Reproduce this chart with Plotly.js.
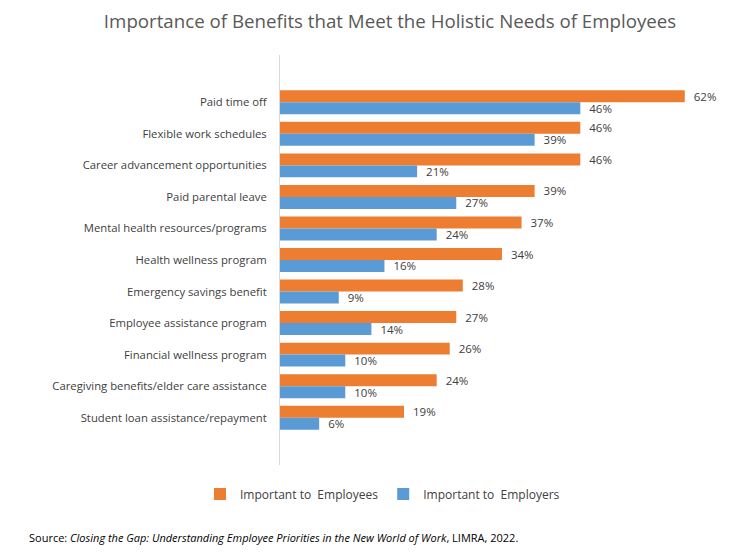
<!DOCTYPE html>
<html>
<head>
<meta charset="utf-8">
<script src="https://cdn.plot.ly/plotly-3.0.1.min.js"></script>
<style>html,body{margin:0;padding:0;background:#fff;}#chart{width:750px;height:554px;}</style>
</head>
<body>
<div id="chart"></div>
<script>
const categories = [
  "Paid time off",
  "Flexible work schedules",
  "Career advancement opportunities",
  "Paid parental leave",
  "Mental health resources/programs",
  "Health wellness program",
  "Emergency savings benefit",
  "Employee assistance program",
  "Financial wellness program",
  "Caregiving benefits/elder care assistance",
  "Student loan assistance/repayment"
];
const employees = [62, 46, 46, 39, 37, 34, 28, 27, 26, 24, 19];
const employers = [46, 39, 21, 27, 24, 16, 9, 14, 10, 10, 6];
const seriesNames = ["Important to  Employees", "Important to  Employers"];

const FONT = "Open Sans, Liberation Sans, sans-serif";
const PAD = '\u00a0\u00a0';
const traces = [
  {type:'bar', orientation:'h', name:seriesNames[0], y:categories, x:employees,
   marker:{color:'#ED7D31'}, text:employees.map(v=>PAD+v+'%'), textposition:'outside', constraintext:'none',
   textfont:{size:11.5,color:'#404040',family:FONT}, cliponaxis:false, hoverinfo:'none'},
  {type:'bar', orientation:'h', name:seriesNames[1], y:categories, x:employers,
   marker:{color:'#5B9BD5'}, text:employers.map(v=>PAD+v+'%'), textposition:'outside', constraintext:'none',
   textfont:{size:11.5,color:'#404040',family:FONT}, cliponaxis:false, hoverinfo:'none'}
];
const layout = {
  width:750, height:554,
  margin:{l:280, r:13, t:55, b:89},
  paper_bgcolor:'#fff', plot_bgcolor:'#fff',
  font:{family:FONT, color:'#404040', size:12},
  title:{text:'Importance of Benefits that Meet the Holistic Needs of Employees',
         font:{size:18.7, color:'#595959', family:FONT}, x:0.52, xanchor:'center', y:0.962, yanchor:'middle'},
  barmode:'group', bargap:0.24, bargroupgap:0,
  xaxis:{range:[0,70], visible:false, showgrid:false, zeroline:false},
  yaxis:{type:'category', range:[11.5,-1.5], showline:true, linecolor:'#d9d9d9', linewidth:1,
         ticks:'', ticklabelstandoff:10, showgrid:false, zeroline:false,
         tickfont:{size:11.3, color:'#404040', family:FONT}},
  showlegend:true,
  legend:{orientation:'h', x:(200-280)/457, xanchor:'left', y:-(494-465)/410, yanchor:'middle',
          font:{size:12, color:'#404040', family:FONT}, itemwidth:30, traceorder:'normal'},
  annotations:[{xref:'paper', yref:'paper', x:(27-280)/457, y:-(537-465)/410, xanchor:'left', yanchor:'middle',
    showarrow:false, align:'left', font:{size:11, color:'#000', family:FONT},
    text:'Source: <i>Closing the Gap: Understanding Employee Priorities in the New World of Work</i>, LIMRA, 2022.'}]
};
Plotly.newPlot('chart', traces, layout, {displayModeBar:false, staticPlot:true});
</script>
</body>
</html>
